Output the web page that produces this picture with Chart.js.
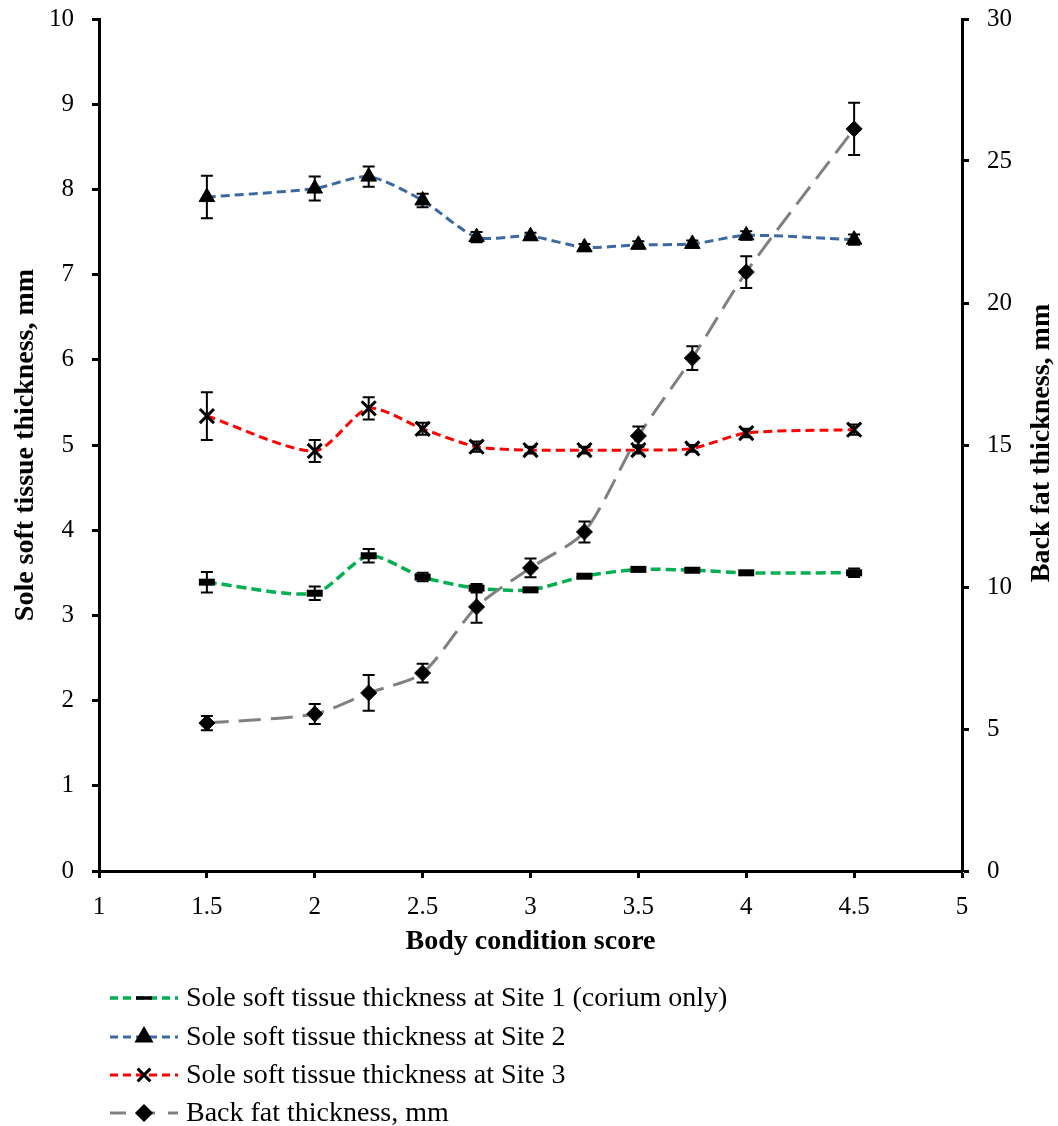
<!DOCTYPE html>
<html>
<head>
<meta charset="utf-8">
<script src="https://cdn.jsdelivr.net/npm/chart.js@4.4.1/dist/chart.umd.min.js"></script>
<style>
  body { margin: 0; background: #fff; }
</style>
</head>
<body>
<canvas id="bcs-canvas" width="1058" height="1126"></canvas>
<script>
// body condition score groups
const bcs = [1.5, 2, 2.25, 2.5, 2.75, 3, 3.25, 3.5, 3.75, 4, 4.5];

// sole soft tissue thickness (mm) and SE
const site1 = [3.39, 3.26, 3.70, 3.45, 3.32, 3.30, 3.46, 3.54, 3.53, 3.50, 3.50];
const site1Err = [0.12, 0.08, 0.08, 0.05, 0.05, 0.02, 0.02, 0.02, 0.02, 0.02, 0.05];
const site2 = [7.91, 8.01, 8.15, 7.87, 7.44, 7.45, 7.32, 7.35, 7.36, 7.46, 7.41];
const site2Err = [0.25, 0.14, 0.12, 0.08, 0.06, 0.04, 0.04, 0.04, 0.04, 0.05, 0.06];
const site3 = [5.34, 4.93, 5.43, 5.19, 4.98, 4.94, 4.94, 4.94, 4.96, 5.14, 5.18];
const site3Err = [0.28, 0.13, 0.13, 0.07, 0.06, 0.04, 0.04, 0.04, 0.04, 0.05, 0.06];

// back fat thickness (mm) and SE, right axis
const backFat = [5.21, 5.53, 6.27, 6.97, 9.30, 10.67, 11.94, 15.32, 18.06, 21.09, 26.13];
const backFatErr = [0.25, 0.35, 0.63, 0.33, 0.56, 0.33, 0.37, 0.33, 0.42, 0.56, 0.92];

const seriesLabels = [
	'Sole soft tissue thickness at Site 1 (corium only)',
	'Sole soft tissue thickness at Site 2',
	'Sole soft tissue thickness at Site 3',
	'Back fat thickness, mm'
];
const rightTitle = 'Back fat thickness, mm';

const toPoints = vals => vals.map((v, i) => ({x: bcs[i], y: v}));

const FONT = "'Liberation Serif', 'Times New Roman', serif";

// vertical SE bars with caps
const errorBars = {
	id: 'errorBars',
	afterDatasetsDraw(chart) {
		const ctx = chart.ctx;
		ctx.save();
		ctx.strokeStyle = '#000';
		ctx.lineWidth = 2;
		chart.data.datasets.forEach((ds, di) => {
			if (!ds.errors) return;
			const meta = chart.getDatasetMeta(di);
			const yScale = chart.scales[ds.yAxisID];
			meta.data.forEach((pt, i) => {
				const v = ds.data[i].y, e = ds.errors[i];
				const top = yScale.getPixelForValue(v + e);
				const bot = yScale.getPixelForValue(v - e);
				ctx.beginPath();
				ctx.moveTo(pt.x, top); ctx.lineTo(pt.x, bot);
				ctx.moveTo(pt.x - 6, top); ctx.lineTo(pt.x + 6, top);
				ctx.moveTo(pt.x - 6, bot); ctx.lineTo(pt.x + 6, bot);
				ctx.stroke();
			});
		});
		ctx.restore();
	}
};

// secondary axis title, reading bottom to top
const rightAxisTitle = {
	id: 'rightAxisTitle',
	afterDraw(chart) {
		const ctx = chart.ctx;
		const area = chart.chartArea;
		ctx.save();
		ctx.translate(1042, (area.top + area.bottom) / 2 - 2);
		ctx.rotate(-Math.PI / 2);
		ctx.font = "bold 28px " + FONT;
		ctx.fillStyle = '#000';
		ctx.textAlign = 'center';
		ctx.textBaseline = 'middle';
		ctx.fillText(rightTitle, 0, 0);
		ctx.restore();
	}
};

// legend below the axis: dashed line sample with the marker in the middle
const bottomLegend = {
	id: 'bottomLegend',
	afterDraw(chart) {
		const ctx = chart.ctx;
		const rows = [998, 1037, 1075, 1113];
		ctx.save();
		chart.data.datasets.forEach((ds, i) => {
			const y = rows[i];
			ctx.strokeStyle = ds.borderColor;
			ctx.lineWidth = ds.borderWidth;
			ctx.setLineDash(ds.legendDash);
			ctx.beginPath();
			ctx.moveTo(110, y); ctx.lineTo(178, y);
			ctx.stroke();
			ctx.setLineDash([]);
			ctx.fillStyle = '#000';
			ctx.strokeStyle = '#000';
			Chart.helpers.drawPoint(ctx, {
				pointStyle: ds.pointStyle,
				radius: ds.legendRadius,
				borderWidth: ds.pointBorderWidth,
				rotation: 0
			}, 144, y);
			ctx.font = "28px " + FONT;
			ctx.fillStyle = '#000';
			ctx.textBaseline = 'middle';
			ctx.textAlign = 'left';
			ctx.fillText(ds.label, 186, y + 1);
		});
		ctx.restore();
	}
};

// fixed axis boxes, no extra label overhang padding
const fixWidth = w => scale => {
	scale.width = w;
	scale.paddingTop = 0;
	scale.paddingBottom = 0;
};

const tickGrid = {drawOnChartArea: false, tickLength: 7, tickWidth: 3, tickColor: '#000'};
const axisBorder = {color: '#000', width: 3};
const tickFont = {family: FONT, size: 25};
const titleFont = {family: FONT, size: 28, weight: 'bold'};

new Chart('bcs-canvas', {
	type: 'line',
	data: {
		datasets: [
			{
				label: seriesLabels[0],
				data: toPoints(site1),
				errors: site1Err,
				yAxisID: 'y',
				borderColor: '#00B050',
				borderWidth: 3.5,
				borderDash: [10, 5],
				legendDash: [8, 5],
				tension: 0.25,
				pointStyle: 'line',
				pointRadius: 8,
				legendRadius: 8,
				pointBorderWidth: 7,
				pointBorderColor: '#000',
				pointBackgroundColor: '#000',
				order: 3
			},
			{
				label: seriesLabels[1],
				data: toPoints(site2),
				errors: site2Err,
				yAxisID: 'y',
				borderColor: '#3D69A3',
				borderWidth: 3,
				borderDash: [9, 5],
				legendDash: [8, 5],
				tension: 0.25,
				pointStyle: 'triangle',
				pointRadius: 9,
				legendRadius: 8,
				pointBorderWidth: 1,
				pointBorderColor: '#000',
				pointBackgroundColor: '#000',
				order: 2
			},
			{
				label: seriesLabels[2],
				data: toPoints(site3),
				errors: site3Err,
				yAxisID: 'y',
				borderColor: '#FF0000',
				borderWidth: 3,
				borderDash: [9, 5],
				legendDash: [8, 5],
				tension: 0.25,
				pointStyle: 'crossRot',
				pointRadius: 10,
				legendRadius: 9,
				pointBorderWidth: 3,
				pointBorderColor: '#000',
				pointBackgroundColor: '#000',
				order: 1
			},
			{
				label: seriesLabels[3],
				data: toPoints(backFat),
				errors: backFatErr,
				yAxisID: 'y1',
				borderColor: '#808080',
				borderWidth: 3,
				borderDash: [22, 10],
				legendDash: [16, 13],
				tension: 0.25,
				pointStyle: 'rectRot',
				pointRadius: 8,
				legendRadius: 7,
				pointBorderWidth: 1,
				pointBorderColor: '#000',
				pointBackgroundColor: '#000',
				order: 0
			}
		]
	},
	options: {
		responsive: false,
		animation: false,
		layout: {
			padding: {top: 19, bottom: 160, left: 0, right: 0}
		},
		scales: {
			x: {
				type: 'linear',
				min: 1,
				max: 5,
				ticks: {
					stepSize: 0.5,
					color: '#000',
					padding: 14,
					font: tickFont,
					callback: value => String(value)
				},
				grid: tickGrid,
				border: axisBorder,
				title: {
					display: true,
					text: 'Body condition score',
					color: '#000',
					padding: {top: 0, bottom: 7},
					font: titleFont
				},
				afterFit: scale => {
					scale.height = 95;
					scale.paddingLeft = 0;
					scale.paddingRight = 0;
				}
			},
			y: {
				position: 'left',
				min: 0,
				max: 10,
				ticks: {
					stepSize: 1,
					color: '#000',
					padding: 18,
					font: tickFont
				},
				grid: tickGrid,
				border: axisBorder,
				title: {
					display: true,
					text: 'Sole soft tissue thickness, mm',
					color: '#000',
					padding: {top: 9, bottom: 0},
					font: titleFont
				},
				afterFit: fixWidth(99)
			},
			y1: {
				position: 'right',
				min: 0,
				max: 30,
				ticks: {
					stepSize: 5,
					color: '#000',
					padding: 18,
					font: tickFont
				},
				grid: tickGrid,
				border: axisBorder,
				afterFit: fixWidth(96)
			}
		},
		plugins: {
			legend: {display: false},
			tooltip: {enabled: false}
		}
	},
	plugins: [errorBars, rightAxisTitle, bottomLegend]
});
</script>
</body>
</html>
